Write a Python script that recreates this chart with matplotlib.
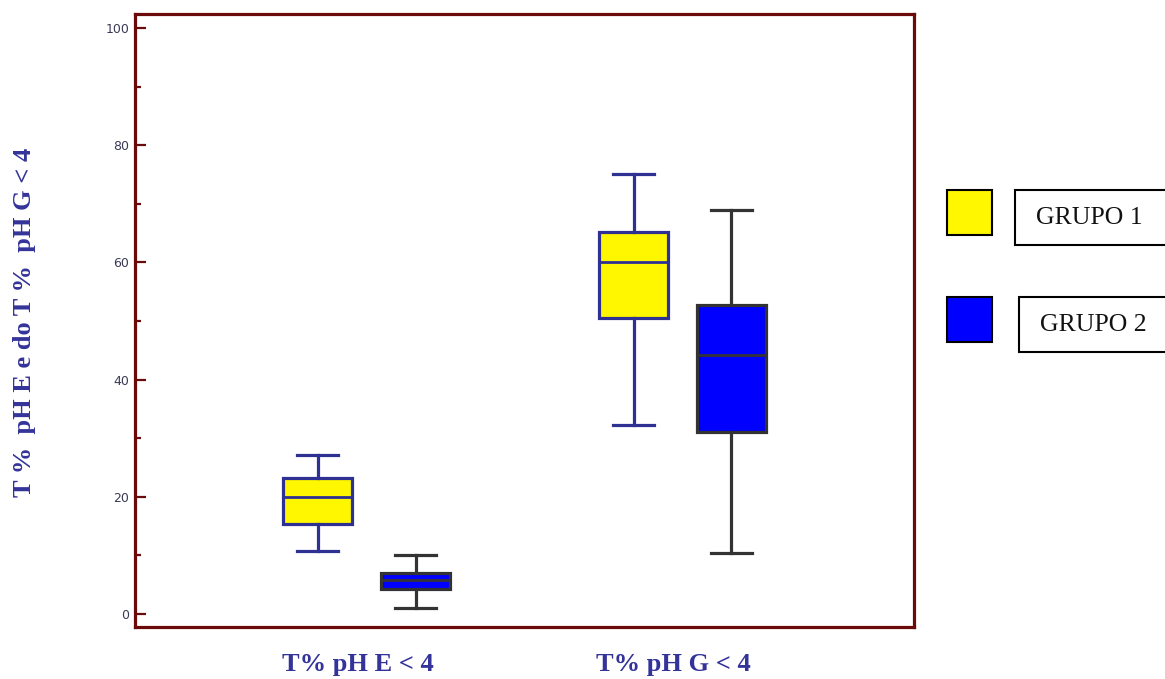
import matplotlib
matplotlib.use("Agg")
from matplotlib import pylab as plt
from matplotlib.patches import Rectangle
from matplotlib.ticker import MultipleLocator

# data
categories = ['T% pH E < 4', 'T% pH G < 4']
groups = ['GRUPO 1', 'GRUPO 2']
g1_whislo = [10.8, 32.3]
g1_q1 = [15.3, 50.5]
g1_med = [20.0, 60.0]
g1_q3 = [23.3, 65.2]
g1_whishi = [27.2, 75.1]
g2_whislo = [1.0, 10.5]
g2_q1 = [4.2, 31.0]
g2_med = [5.8, 44.2]
g2_q3 = [7.0, 52.7]
g2_whishi = [10.1, 68.9]

frameColor = '#6b0a0a'
labelColor = '#333399'
g1Face, g1Edge = '#fff700', '#2e3192'
g2Face, g2Edge = '#0000ff', '#333333'


def stats(lo, q1, med, q3, hi):
    return [{'whislo': a, 'q1': b, 'med': c, 'q3': d, 'whishi': e, 'fliers': []}
            for a, b, c, d, e in zip(lo, q1, med, q3, hi)]


def props(face, edge):
    return dict(boxprops={'facecolor': face, 'edgecolor': edge, 'linewidth': 2.3},
                whiskerprops={'color': edge, 'linewidth': 2.3},
                capprops={'color': edge, 'linewidth': 2.3},
                medianprops={'color': edge, 'linewidth': 2.0})


fig = plt.figure(figsize=(11.65, 6.79), dpi=100)
ax = fig.add_axes([0.1159, 0.0766, 0.6687, 0.9028])

groupPos = [1, 2]
offset = 0.155
width = 0.22
ax.bxp(stats(g1_whislo, g1_q1, g1_med, g1_q3, g1_whishi),
       positions=[p - offset for p in groupPos], widths=width, capwidths=0.13,
       patch_artist=True, showfliers=False, manage_ticks=False, **props(g1Face, g1Edge))
ax.bxp(stats(g2_whislo, g2_q1, g2_med, g2_q3, g2_whishi),
       positions=[p + offset for p in groupPos], widths=width, capwidths=0.13,
       patch_artist=True, showfliers=False, manage_ticks=False, **props(g2Face, g2Edge))

ax.set_xlim(0.267, 2.733)
ax.set_ylim(-2.2, 102.4)
ax.yaxis.set_major_locator(MultipleLocator(20))
ax.yaxis.set_minor_locator(MultipleLocator(10))
# category labels sit a little left of the box pairs in the original
ax.set_xticks([p - 0.028 for p in groupPos])
ax.set_xticklabels(categories, fontfamily='Liberation Serif', fontweight='bold',
                   fontsize=19, color=labelColor)
ax.tick_params(axis='x', length=0, pad=19)
ax.tick_params(axis='y', which='major', direction='in', length=8, width=1.6,
               color=frameColor, labelsize=9, labelcolor='#3a3a55', pad=4)
ax.tick_params(axis='y', which='minor', direction='in', length=4, width=1.6, color=frameColor)
for s in ax.spines.values():
    s.set_color(frameColor)
    s.set_linewidth(2.3)

fig.text(0.021, 0.525, 'T %  pH E e do T %  pH G < 4', rotation=90, ha='center', va='center',
         fontfamily='Liberation Serif', fontweight='bold', fontsize=19, color=labelColor)

# legend: swatch box plus a separate framed label box
legendRows = [(190, 1015, g1Face), (297, 1019, g2Face)]
W, H = 1165.0, 679.0
for (top, textLeft, face), name in zip(legendRows, groups):
    fig.add_artist(Rectangle((947 / W, (H - top - 45) / H), 45 / W, 45 / H,
                             transform=fig.transFigure, facecolor=face,
                             edgecolor='black', linewidth=1.5))
    fig.add_artist(Rectangle((textLeft / W, (H - top - 55) / H), 170 / W, 55 / H,
                             transform=fig.transFigure, facecolor='white',
                             edgecolor='black', linewidth=1.5))
    fig.text((textLeft + 21) / W, (H - top - 28) / H, name, ha='left', va='center',
             fontfamily='Liberation Serif', fontsize=18.5, color='#111111')

fig.savefig('out.png', dpi=100)
